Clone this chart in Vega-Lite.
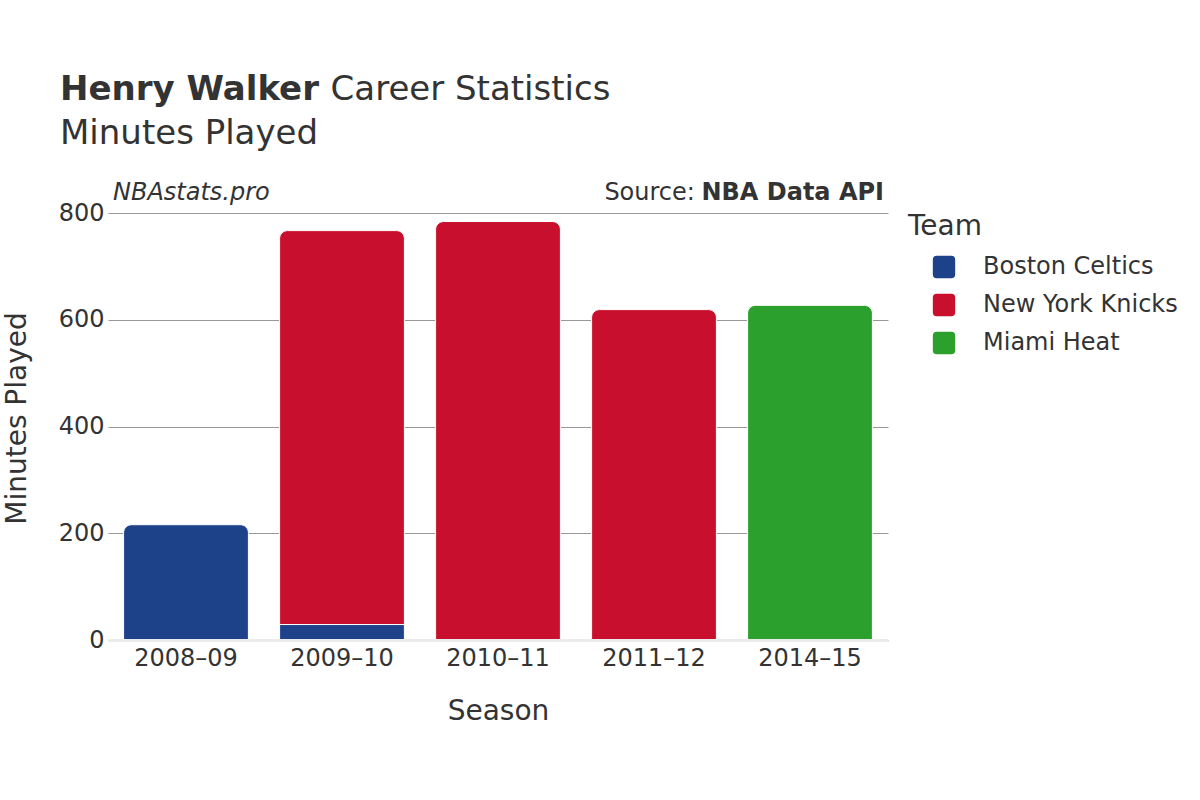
{
  "$schema": "https://vega.github.io/schema/vega-lite/v6.json",
  "width": 780,
  "height": 427,
  "autosize": "none",
  "padding": {"left": 108, "top": 213, "right": 312, "bottom": 160},
  "background": "white",
  "config": {
    "view": {"stroke": null},
    "font": "DejaVu Sans",
    "text": {"color": "#333333", "font": "DejaVu Sans"}
  },
  "layer": [
    {
      "data": {
        "values": [
          {"Season": "2008–09", "Team": "Boston Celtics", "Minutes": 216},
          {"Season": "2009–10", "Team": "Boston Celtics", "Minutes": 29},
          {"Season": "2009–10", "Team": "New York Knicks", "Minutes": 738},
          {"Season": "2010–11", "Team": "New York Knicks", "Minutes": 784},
          {"Season": "2011–12", "Team": "New York Knicks", "Minutes": 619},
          {"Season": "2014–15", "Team": "Miami Heat", "Minutes": 627}
        ]
      },
      "transform": [
        {"stack": "Minutes", "groupby": ["Season"], "sort": [{"field": "Team", "order": "ascending"}], "as": ["y0", "y1"]},
        {"joinaggregate": [{"op": "max", "field": "y1", "as": "top"}], "groupby": ["Season"]}
      ],
      "encoding": {
        "x": {
          "field": "Season",
          "type": "nominal",
          "title": "Season",
          "scale": {"paddingInner": 0.2, "paddingOuter": 0.1},
          "axis": {
            "labelAngle": 0,
            "labelFontSize": 24,
            "labelColor": "#333333",
            "labelPadding": 6,
            "ticks": false,
            "domain": true,
            "domainColor": "#ebebeb",
            "domainWidth": 3,
            "zindex": 1,
            "titleFontSize": 28,
            "titleFontWeight": "normal",
            "titleColor": "#333333",
            "titlePadding": 27
          }
        },
        "y": {
          "field": "y1",
          "type": "quantitative",
          "title": "Minutes Played",
          "scale": {"domain": [0, 800], "nice": false},
          "axis": {
            "values": [0, 200, 400, 600, 800],
            "labelFontSize": 24,
            "labelColor": "#333333",
            "labelPadding": 4,
            "ticks": false,
            "domain": false,
            "grid": true,
            "gridColor": "#999999",
            "gridWidth": 1,
            "titleFontSize": 28,
            "titleFontWeight": "normal",
            "titleColor": "#333333",
            "titlePadding": 27,
            "titleY": 205
          }
        },
        "y2": {"field": "y0"},
        "color": {
          "field": "Team",
          "type": "nominal",
          "title": "Team",
          "scale": {
            "domain": ["Boston Celtics", "New York Knicks", "Miami Heat"],
            "range": ["#1D428A", "#C8102E", "#2CA02C"]
          },
          "legend": {
            "orient": "right",
            "offset": 20,
            "padding": 0,
            "titleFontSize": 28,
            "titleFontWeight": "normal",
            "titleColor": "#333333",
            "titlePadding": 14,
            "labelFontSize": 24,
            "labelColor": "#333333",
            "labelLimit": 300,
            "labelOffset": 27,
            "symbolOffset": 24,
            "symbolSize": 500,
            "symbolType": "M-0.65,-1H0.65Q1,-1,1,-0.65V0.65Q1,1,0.65,1H-0.65Q-1,1,-1,0.65V-0.65Q-1,-1,-0.65,-1Z",
            "symbolOpacity": 1,
            "symbolStrokeWidth": 0,
            "rowPadding": 14
          }
        }
      },
      "layer": [
        {
          "transform": [{"filter": "datum.y1 < datum.top"}],
          "mark": {"type": "bar", "stroke": "white", "strokeWidth": 1}
        },
        {
          "transform": [{"filter": "datum.y1 >= datum.top"}],
          "mark": {"type": "bar", "stroke": "white", "strokeWidth": 1, "cornerRadiusTopLeft": 8, "cornerRadiusTopRight": 8}
        }
      ]
    },
    {
      "data": {"values": [{"label": "Henry Walker"}]},
      "mark": {"type": "text", "align": "left", "baseline": "alphabetic", "fontSize": 34, "fontWeight": "bold", "dx": -63.6, "dy": -113, "color": "#333333"},
      "encoding": {
        "x": {"datum": "2008–09", "type": "nominal", "bandPosition": 0, "title": "Season"},
        "y": {"datum": 800, "type": "quantitative", "title": "Minutes Played"},
        "text": {"field": "label"}
      }
    },
    {
      "data": {"values": [{"label": "Career Statistics"}]},
      "mark": {"type": "text", "align": "left", "baseline": "alphabetic", "fontSize": 34, "fontWeight": "normal", "dx": 207, "dy": -113, "color": "#333333"},
      "encoding": {
        "x": {"datum": "2008–09", "type": "nominal", "bandPosition": 0, "title": "Season"},
        "y": {"datum": 800, "type": "quantitative", "title": "Minutes Played"},
        "text": {"field": "label"}
      }
    },
    {
      "data": {"values": [{"label": "Minutes Played"}]},
      "mark": {"type": "text", "align": "left", "baseline": "alphabetic", "fontSize": 34, "fontWeight": "normal", "dx": -63.6, "dy": -69.5, "color": "#333333"},
      "encoding": {
        "x": {"datum": "2008–09", "type": "nominal", "bandPosition": 0, "title": "Season"},
        "y": {"datum": 800, "type": "quantitative", "title": "Minutes Played"},
        "text": {"field": "label"}
      }
    },
    {
      "data": {"values": [{"label": "NBAstats.pro"}]},
      "mark": {"type": "text", "align": "left", "baseline": "alphabetic", "fontSize": 24, "fontStyle": "italic", "dx": -10.6, "dy": -13, "color": "#333333"},
      "encoding": {
        "x": {"datum": "2008–09", "type": "nominal", "bandPosition": 0, "title": "Season"},
        "y": {"datum": 800, "type": "quantitative", "title": "Minutes Played"},
        "text": {"field": "label"}
      }
    },
    {
      "data": {"values": [{"label": "NBA Data API"}]},
      "mark": {"type": "text", "align": "right", "baseline": "alphabetic", "fontSize": 24, "fontWeight": "bold", "dx": 11.6, "dy": -13, "color": "#333333"},
      "encoding": {
        "x": {"datum": "2014–15", "type": "nominal", "bandPosition": 1, "title": "Season"},
        "y": {"datum": 800, "type": "quantitative", "title": "Minutes Played"},
        "text": {"field": "label"}
      }
    },
    {
      "data": {"values": [{"label": "Source:"}]},
      "mark": {"type": "text", "align": "right", "baseline": "alphabetic", "fontSize": 24, "fontWeight": "normal", "dx": -177.5, "dy": -13, "color": "#333333"},
      "encoding": {
        "x": {"datum": "2014–15", "type": "nominal", "bandPosition": 1, "title": "Season"},
        "y": {"datum": 800, "type": "quantitative", "title": "Minutes Played"},
        "text": {"field": "label"}
      }
    }
  ]
}
